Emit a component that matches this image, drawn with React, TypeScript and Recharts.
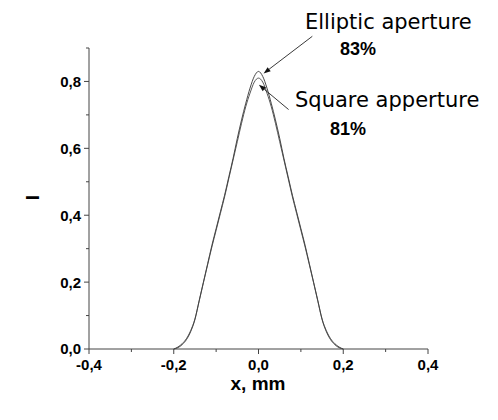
import React from 'react';
import { LineChart, Line, XAxis, YAxis, ReferenceLine } from 'recharts';

const xPos = [
  -0.2, -0.19, -0.18, -0.17, -0.16, -0.15, -0.14, -0.13, -0.12, -0.11, -0.1, -0.09, -0.08, -0.07,
  -0.06, -0.05, -0.04, -0.03, -0.02, -0.01, 0, 0.01, 0.02, 0.03, 0.04, 0.05, 0.06, 0.07, 0.08,
  0.09, 0.1, 0.11, 0.12, 0.13, 0.14, 0.15, 0.16, 0.17, 0.18, 0.19, 0.2,
];
const elliptic = [
  0, 0.006, 0.016, 0.031, 0.055, 0.09, 0.145, 0.2, 0.255, 0.31, 0.36, 0.41, 0.46, 0.515,
  0.57, 0.63, 0.685, 0.735, 0.78, 0.815, 0.83, 0.815, 0.78, 0.735, 0.685, 0.63, 0.57, 0.515, 0.46,
  0.41, 0.36, 0.31, 0.255, 0.2, 0.145, 0.09, 0.055, 0.031, 0.016, 0.006, 0,
];
const square = [
  0, 0.004, 0.013, 0.028, 0.052, 0.088, 0.143, 0.198, 0.252, 0.305, 0.355, 0.405, 0.455, 0.51,
  0.565, 0.62, 0.675, 0.725, 0.765, 0.798, 0.81, 0.798, 0.765, 0.725, 0.675, 0.62, 0.565, 0.51, 0.455,
  0.405, 0.355, 0.305, 0.252, 0.198, 0.143, 0.088, 0.052, 0.028, 0.013, 0.004, 0,
];

const xTicks = [-0.4, -0.3, -0.2, -0.1, 0, 0.1, 0.2, 0.3, 0.4];
const xTickLabels = ['-0,4', '', '-0,2', '', '0,0', '', '0,2', '', '0,4'];
const yTicks = [0, 0.1, 0.2, 0.3, 0.4, 0.5, 0.6, 0.7, 0.8, 0.9];
const yTickLabels = ['0,0', '', '0,2', '', '0,4', '', '0,6', '', '0,8', ''];

// arrow segments in data units: [from, to]
const ellipticArrow = [{ x: 0.127, y: 0.935 }, { x: 0.012, y: 0.824 }];
const squareArrow = [{ x: 0.071, y: 0.716 }, { x: 0.001, y: 0.79 }];

const data = xPos.map((x, i) => ({ x, elliptic: elliptic[i], square: square[i] }));

const axisColor = '#444';
const tickFont = { fontFamily: '"Liberation Sans", Arial, sans-serif', fontWeight: 700, fontSize: 15 };

const XTick = (props: any) => {
  const { x, y, index } = props;
  const label = xTickLabels[index];
  return (
    <g>
      <line x1={x} y1={y} x2={x} y2={y + (label ? 5 : 3)} stroke={axisColor} />
      {label && (
        <text x={x} y={y + 20.5} textAnchor="middle" fill="#000" style={tickFont}>
          {label}
        </text>
      )}
    </g>
  );
};

const YTick = (props: any) => {
  const { x, y, index } = props;
  const label = yTickLabels[index];
  return (
    <g>
      <line x1={x} y1={y} x2={x - (label ? 5 : 3)} y2={y} stroke={axisColor} />
      {label && (
        <text x={x - 8} y={y} dy="0.36em" textAnchor="end" fill="#000" style={tickFont}>
          {label}
        </text>
      )}
    </g>
  );
};

const Arrow = (props: any) => {
  const { x1, y1, x2, y2 } = props;
  const ang = Math.atan2(y2 - y1, x2 - x1);
  const len = 7;
  const w = 2.5;
  const bx = x2 - len * Math.cos(ang);
  const by = y2 - len * Math.sin(ang);
  const px = -Math.sin(ang) * w;
  const py = Math.cos(ang) * w;
  return (
    <g>
      <line x1={x1} y1={y1} x2={bx} y2={by} stroke="#222" strokeWidth={0.9} />
      <polygon points={`${x2},${y2} ${bx + px},${by + py} ${bx - px},${by - py}`} fill="#111" />
    </g>
  );
};

export default function App() {
  return (
    <div style={{ position: 'absolute', left: 0, top: 0, width: 498, height: 420, background: '#fff' }}>
      <LineChart width={498} height={420} data={data} margin={{ top: 48, right: 70, bottom: 41, left: 0 }}>
        <XAxis
          dataKey="x"
          type="number"
          domain={[-0.4, 0.4]}
          ticks={xTicks}
          interval={0}
          height={30}
          tickSize={0}
          tickMargin={0}
          tickLine={false}
          stroke={axisColor}
          tick={<XTick />}
        />
        <YAxis
          type="number"
          domain={[0, 0.9]}
          ticks={yTicks}
          interval={0}
          width={89}
          tickSize={0}
          tickMargin={0}
          tickLine={false}
          stroke={axisColor}
          tick={<YTick />}
        />
        <Line dataKey="elliptic" type="monotone" stroke="#333" strokeWidth={0.9} dot={false} isAnimationActive={false} />
        <Line dataKey="square" type="monotone" stroke="#444" strokeWidth={0.9} dot={false} isAnimationActive={false} />
        <ReferenceLine segment={ellipticArrow} ifOverflow="visible" shape={<Arrow />} />
        <ReferenceLine segment={squareArrow} ifOverflow="visible" shape={<Arrow />} />
      </LineChart>
      <svg width={498} height={420} style={{ position: 'absolute', left: 0, top: 0, pointerEvents: 'none' }}>
        <g style={{ fontFamily: '"DejaVu Sans", sans-serif', fontSize: 21 }} fill="#000">
          <text x={305} y={28.5}>Elliptic aperture</text>
          <text x={295} y={107}>Square apperture</text>
        </g>
        <g style={{ fontFamily: '"Liberation Sans", Arial, sans-serif', fontWeight: 700 }} fill="#000">
          <text x={358} y={55} textAnchor="middle" fontSize={18}>83%</text>
          <text x={348} y={135} textAnchor="middle" fontSize={18}>81%</text>
          <text x={258} y={390} textAnchor="middle" fontSize={19}>x, mm</text>
          <text x={0} y={0} textAnchor="middle" fontSize={19} transform="translate(32,197.5) rotate(-90)" dy={6.8}>
            I
          </text>
        </g>
      </svg>
    </div>
  );
}
